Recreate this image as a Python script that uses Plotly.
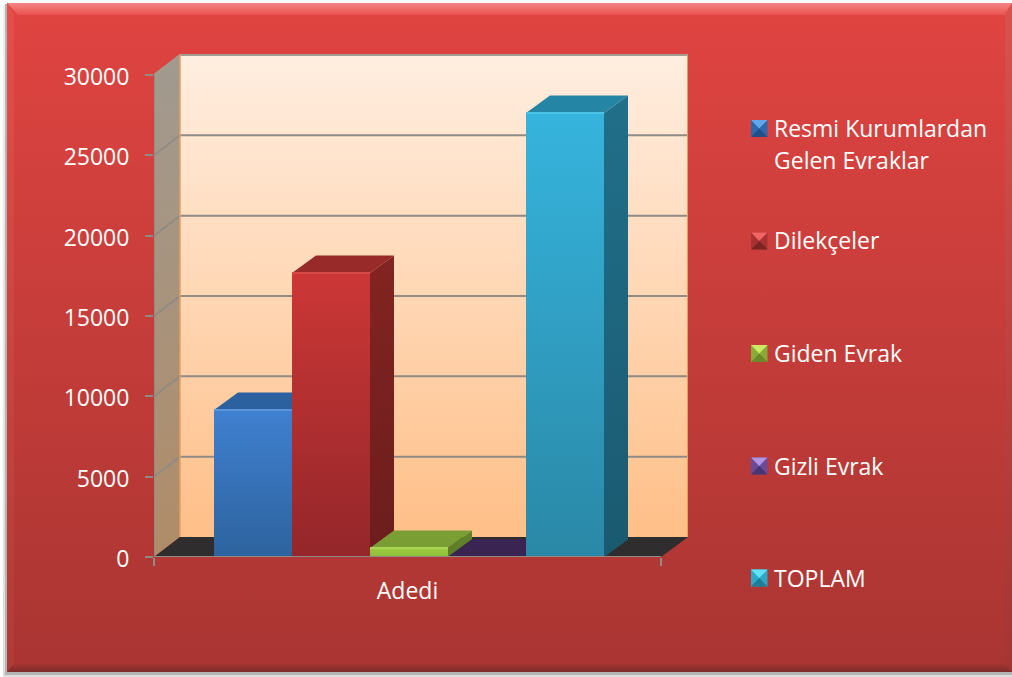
import plotly.graph_objects as go

# ---- data ----
categories = ["Adedi"]
series_names = ["Resmi Kurumlardan Gelen Evraklar", "Dilekçeler", "Giden Evrak", "Gizli Evrak", "TOPLAM"]
resmi_values = [9150]
dilekce_values = [17680]
giden_values = [560]
gizli_values = [20]
toplam_values = [27630]
y_ticks = [0, 5000, 10000, 15000, 20000, 25000, 30000]
legend_lines = [["Resmi Kurumlardan", "Gelen Evraklar"], ["Dilekçeler"], ["Giden Evrak"], ["Gizli Evrak"], ["TOPLAM"]]

# ---- styles ----
W, H = 1012, 677
PL, PR, PT, PB = 154, 688, 54, 557      # plot box (pixels)
FRONT_R = 661                            # right end of the front floor edge
PX_PER_Y = 482 / 30000
PX_PER_X = float(FRONT_R - PL)           # one category = this many pixels
X0, X1 = -0.5, -0.5 + (PR - PL) / PX_PER_X
Y1 = (PB - PT) / PX_PER_Y
WALL_DX, WALL_DY = 26 / PX_PER_X, 20 / PX_PER_Y
BAR_DX, BAR_DY = 24 / PX_PER_X, 17.5 / PX_PER_Y
BAR_W = 78 / PX_PER_X
BAR_START = (214 - PL) / PX_PER_X - 0.5  # left edge of the first bar
FONT = "Open Sans"
FS = 23
GRID = "#8f8b85"

face = {  # front top, front bottom, top face, side top, side bottom, front highlight
    0: ("#3f80d0", "#2d639e", "#2c61a0", "#26548a", "#214a78", "#5a95dc"),
    1: ("#cc3736", "#94262a", "#982a29", "#822422", "#6c1d1d", "#d64b4a"),
    2: ("#9ccb3f", "#8fbb38", "#7a9e33", "#64842b", "#5c7a28", "#aad652"),
    3: ("#4b3070", "#4b3070", "#3a2552", "#2f1e44", "#2f1e44", "#3a2552"),
    4: ("#36b4dd", "#2a88a6", "#2585a5", "#216f8a", "#1a5a70", "#4cc2e6"),
}
swatch = {  # top, sides, bottom
    0: ("#63a6ec", "#2f68ab", "#234f86"),
    1: ("#f26464", "#a83232", "#7c2424"),
    2: ("#cdea64", "#8aab38", "#6a8928"),
    3: ("#b394e2", "#6a4b99", "#4a3470"),
    4: ("#62e2f8", "#2fa9c9", "#207d97"),
}

values = [resmi_values, dilekce_values, giden_values, gizli_values, toplam_values]
fig = go.Figure()


def poly(xs, ys, axis, color=None, grad=None, orient="vertical"):
    """grad lists colours from the top of the polygon to its bottom."""
    kw = dict(x=xs, y=ys, xaxis="x" + axis, yaxis="y" + axis, mode="lines", fill="toself",
              line=dict(width=0), hoverinfo="skip", showlegend=False)
    if grad:
        rev = list(reversed(grad))
        kw["fillgradient"] = dict(type=orient, colorscale=[[i / (len(rev) - 1), c] for i, c in enumerate(rev)])
    else:
        kw["fillcolor"] = color
    fig.add_trace(go.Scatter(**kw))


def seg(xs, ys, axis, color, width):
    fig.add_trace(go.Scatter(x=xs, y=ys, xaxis="x" + axis, yaxis="y" + axis, mode="lines", cliponaxis=False,
                             line=dict(color=color, width=width), hoverinfo="skip", showlegend=False))


# ---- panel (pixel axes, subplot 1) ----
L, R, T, B = 7, W, 3, 672
poly([L - 4, R, R, L - 4], [T + 2, T + 2, B + 5, B + 5], "", grad=["#eeeeee", "#dddddd"])
poly([L - 2, R, R, L - 2], [T + 1, T + 1, B + 3, B + 3], "", color="#b4b4b4")
poly([L, R, R, L], [T, T, B, B], "", grad=["#e04441", "#a93532"])
poly([L, R, R - 7, L + 11], [T, T, T + 12, T + 12], "", grad=["#f58684", "#e9524f"])
poly([L, L + 7, L + 7, L], [T, T + 11, B - 8, B], "", grad=["#e54f4b", "#b03a36"])
poly([R, R - 7, R - 7, R], [T, T + 11, B - 8, B], "", grad=["#d9514d", "#a23532"])
poly([L, R, R - 7, L + 7], [B, B, B - 8, B - 8], "", grad=["#a43431", "#7c2c2b"])

# legend swatches
legend_y = [128.5, 241, 353.5, 466, 578]
sx0, sx1, sh = 751, 767.5, 8.5
for i, cy in enumerate(legend_y):
    cx = (sx0 + sx1) / 2
    top, side, bottom = swatch[i]
    poly([sx0, sx1, sx1, sx0], [cy - sh, cy - sh, cy + sh, cy + sh], "", color=side)
    poly([sx0, sx1, cx], [cy + sh, cy + sh, cy], "", color=bottom)
    poly([sx0, sx1, cx], [cy - sh, cy - sh, cy], "", color=top)

# ---- walls and floor (subplot 2, same scale as the chart) ----
fl, fr = X0, 0.5
poly([fl, fl, fl + WALL_DX, fl + WALL_DX], [0, 30000, 30000 + WALL_DY, WALL_DY], "2",
     grad=["#a19a90", "#b08c68"])
poly([fl + WALL_DX, X1, X1, fl + WALL_DX], [WALL_DY, WALL_DY, 30000 + WALL_DY, 30000 + WALL_DY], "2",
     grad=["#ffeee0", "#ffbf88"])
poly([fl, fr, X1, fl + WALL_DX], [0, 0, WALL_DY, WALL_DY], "2", color="#2f2d2d")
for t in y_ticks[1:-1]:
    seg([fl, fl + WALL_DX, X1], [t, t + WALL_DY, t + WALL_DY], "2", GRID, 2)
seg([fl, fl + WALL_DX, X1], [30000, 30000 + WALL_DY, 30000 + WALL_DY], "2", "#a39c92", 2)
seg([fl + WALL_DX, fl + WALL_DX], [WALL_DY, 30000 + WALL_DY], "2", "#e79f5c", 1.5)
seg([X1, X1], [WALL_DY, 30000 + WALL_DY], "2", "#e79f5c", 2)

# ---- bars (subplot 3, category axis) ----
for i, (name, vals) in enumerate(zip(series_names, values)):
    fig.add_trace(go.Bar(name=name, x=categories, y=vals, xaxis="x3", yaxis="y3", width=BAR_W,
                         offset=BAR_START + i * BAR_W,
                         marker=dict(color=face[i][0], line=dict(width=0)), showlegend=False))

# ---- 3D faces drawn over the bars, from the same values (subplot 4) ----
for i, vals in enumerate(values):
    v = vals[0]
    x_a = BAR_START + i * BAR_W
    x_b = x_a + BAR_W
    f_top, f_bot, t_col, s_top, s_bot, f_hi = face[i]
    if i != 3:
        poly([x_b, x_b + BAR_DX, x_b + BAR_DX, x_b], [0, BAR_DY, v + BAR_DY, v], "4", grad=[s_top, s_bot])
    poly([x_a, x_b, x_b + BAR_DX, x_a + BAR_DX], [v, v, v + BAR_DY, v + BAR_DY], "4", color=t_col)
    if i != 3:
        poly([x_a, x_b, x_b, x_a], [0, 0, v, v], "4", grad=[f_top, f_bot])
        seg([x_a, x_b], [v, v], "4", f_hi, 2)

# axis lines stop at the front of the box
seg([fl, fr], [0, 0], "4", GRID, 2)
seg([fl, fl], [0, 30000], "4", GRID, 2)

# ---- legend text ----
ann = []
line_y = [[128, 160], [240.5], [353], [465.5], [577.5]]
for rows, ys in zip(legend_lines, line_y):
    for txt, yy in zip(rows, ys):
        ann.append(dict(x=774 / W, y=1 - yy / H, xref="paper", yref="paper", text=txt, showarrow=False,
                        xanchor="left", yanchor="middle", font=dict(family=FONT, size=FS, color="#ffffff"),
                        xshift=-2))

hidden = dict(visible=False, fixedrange=True)
dx = [PL / W, PR / W]
dy = [1 - PB / H, 1 - PT / H]
fig.update_layout(
    width=W, height=H, margin=dict(l=0, r=0, t=0, b=0, autoexpand=False), showlegend=False,
    paper_bgcolor="#ffffff", plot_bgcolor="rgba(0,0,0,0)",
    barmode="overlay",
    font=dict(family=FONT, size=FS, color="#ffffff"),
    annotations=ann,
    xaxis=dict(domain=[0, 1], range=[0, W], **hidden),
    yaxis=dict(domain=[0, 1], range=[H, 0], **hidden),
    xaxis2=dict(domain=dx, range=[X0, X1], anchor="y2", **hidden),
    yaxis2=dict(domain=dy, range=[0, Y1], anchor="x2", **hidden),
    xaxis3=dict(domain=dx, range=[X0, X1], anchor="y3", type="category", tickson="boundaries",
                ticks="outside", ticklen=8, tickwidth=2, tickcolor=GRID, showline=False, showgrid=False,
                zeroline=False, fixedrange=True, ticklabelstandoff=18),
    yaxis3=dict(domain=dy, range=[0, Y1], anchor="x3", tickmode="array", tickvals=y_ticks,
                ticktext=[str(t) for t in y_ticks],
                ticks="outside", ticklen=8, tickwidth=2, tickcolor=GRID, showline=False, showgrid=False,
                zeroline=False, fixedrange=True, ticklabelstandoff=11, ticklabelshift=2),
    xaxis4=dict(domain=dx, range=[X0, X1], anchor="y4", **hidden),
    yaxis4=dict(domain=dy, range=[0, Y1], anchor="x4", **hidden),
)

fig.write_html("out.html", config={"displayModeBar": False},
               post_script="document.body.style.margin='0';document.body.style.overflow='hidden';")
